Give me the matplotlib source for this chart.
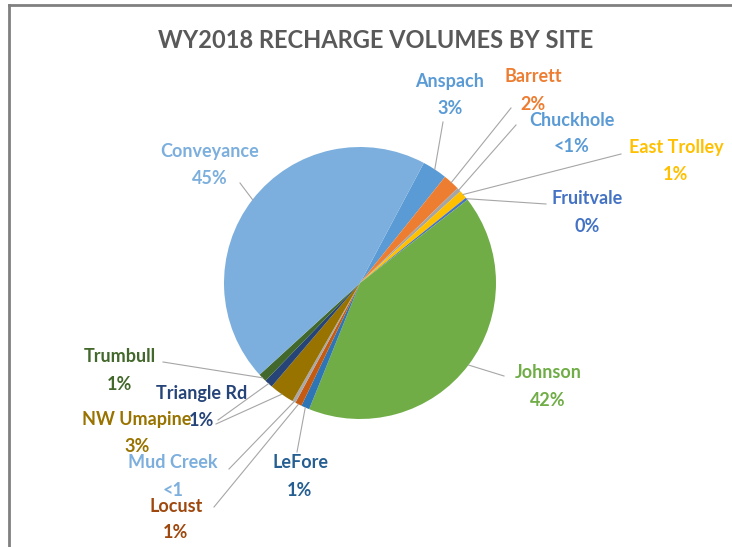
import math
import matplotlib.pyplot as plt

# recharge share by site, in pie order (clockwise)
sites = ["Anspach", "Barrett", "Chuckhole", "East Trolley", "Fruitvale", "Johnson",
         "LeFore", "Locust", "Mud Creek", "NW Umapine", "Triangle Rd", "Trumbull",
         "Conveyance"]
share = [3, 2, 0.5, 1, 0.3, 42, 1, 0.8, 0.4, 3, 1, 1, 45]
pct_text = ["3%", "2%", "<1%", "1%", "0%", "42%", "1%", "1%", "<1", "3%", "1%", "1%", "45%"]

colors = ["#5B9BD5", "#ED7D31", "#A5A5A5", "#FFC000", "#4472C4", "#70AD47",
          "#2E75B6", "#C55A11", "#A9A9A9", "#997300", "#264478", "#43682B",
          "#7CAFDD"]
label_colors = ["#5B9BD5", "#ED7D31", "#5B9BD5", "#FFC000", "#4472C4", "#70AD47",
                "#255E91", "#9E480E", "#7CAFDD", "#997300", "#264478", "#43682B",
                "#7CAFDD"]

W, H = 732, 547
# label centre (name line) and leader line start, pixel coords from top-left
label_pos = {
    "Anspach": (450, 82), "Barrett": (533, 77), "Chuckhole": (572, 120),
    "East Trolley": (676, 148), "Fruitvale": (587, 199), "Johnson": (548, 373),
    "LeFore": (300, 463), "Locust": (176, 506), "Mud Creek": (173, 463),
    "NW Umapine": (137, 419), "Triangle Rd": (202, 393), "Trumbull": (120, 357),
    "Conveyance": (210, 151),
}
line_start = {
    "Anspach": (443, 122), "Barrett": (511, 108), "Chuckhole": (516, 125),
    "East Trolley": (621, 154), "Fruitvale": (546, 204), "Johnson": (504, 376),
    "LeFore": (297, 452), "Locust": (214, 507), "Mud Creek": (229, 469),
    "NW Umapine": (216, 424), "Triangle Rd": (218, 420), "Trumbull": (163, 362),
    "Conveyance": (240, 183),
}

cx, cy, r = 360, 283, 136

plt.rcParams['font.family'] = ['Lato', 'DejaVu Sans']

fig = plt.figure(figsize=(W / 100, H / 100), dpi=100)
ax = fig.add_axes([0, 0, 1, 1])

wedges, _ = ax.pie(share, colors=colors, startangle=62, counterclock=False,
                   center=(cx, H - cy), radius=r,
                   wedgeprops=dict(linewidth=0))
ax.set_xlim(0, W)
ax.set_ylim(0, H)
ax.set_aspect('equal')
ax.axis('off')

# leader lines to the wedge mid-points
for w, name in zip(wedges, sites):
    t = math.radians((w.theta1 + w.theta2) / 2)
    ex = cx + r * math.cos(t)
    ey = (H - cy) + r * math.sin(t)
    sx, sy = line_start[name]
    ax.plot([sx, ex], [H - sy, ey], color="#A6A6A6", lw=0.8, zorder=1)

for name, pct, c in zip(sites, pct_text, label_colors):
    x, y = label_pos[name]
    ax.text(x, H - y, name, color=c, fontsize=13, fontweight='bold',
            ha='center', va='center')
    ax.text(x, H - y - 27, pct, color=c, fontsize=13, fontweight='bold',
            ha='center', va='center')

ax.text(376, H - 40, "WY2018 RECHARGE VOLUMES BY SITE", color="#595959",
        fontsize=17, fontweight='bold', ha='center', va='center')

# chart border (left and top edges)
ax.plot([9, 9], [0, H - 5], color="#808080", lw=2, clip_on=False)
ax.plot([9, W], [H - 5, H - 5], color="#808080", lw=2, clip_on=False)

fig.savefig("out.png", dpi=100)
